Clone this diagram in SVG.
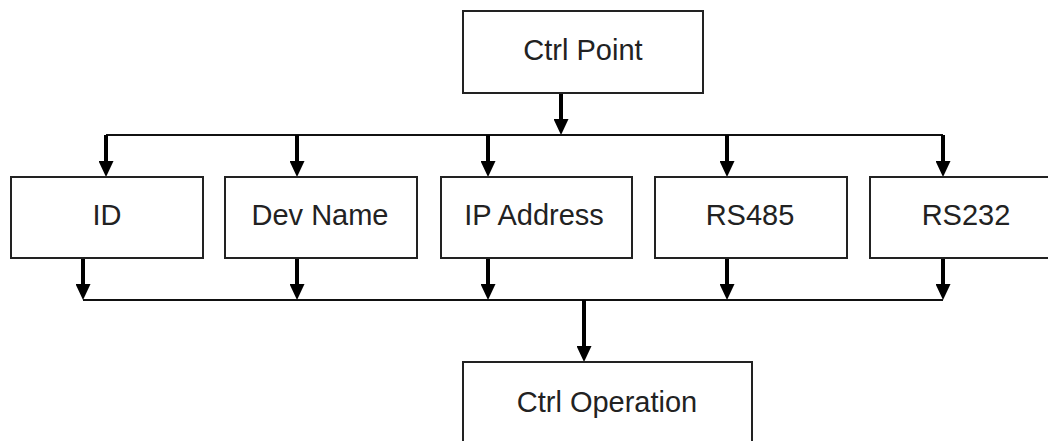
<svg xmlns="http://www.w3.org/2000/svg" width="1048" height="441" viewBox="0 0 1048 441">
  <style>
    .box { fill: #ffffff; stroke: #222222; stroke-width: 2; }
    .lbl { font-family: "Liberation Sans", Arial, sans-serif; font-size: 29px; fill: #222222; text-anchor: middle; }
    .bus { stroke: #111111; stroke-width: 2; fill: none; }
    .arr { stroke: #000000; stroke-width: 4; fill: none; marker-end: url(#head); }
  </style>
  <defs>
    <marker id="head" markerUnits="userSpaceOnUse" markerWidth="16" markerHeight="15" viewBox="0 0 16 15" refX="6" refY="7.5" orient="auto">
      <path d="M0,0 L16,7.5 L0,15 z" fill="#000000"/>
    </marker>
  </defs>
  <rect width="1048" height="441" fill="#ffffff"/>

  <g id="connectors">
    <line class="arr" x1="561" y1="93" x2="561" y2="125"/>
    <line class="bus" x1="106" y1="135" x2="943" y2="135"/>
    <line class="arr" x1="106" y1="135" x2="106" y2="167"/>
    <line class="arr" x1="297" y1="135" x2="297" y2="167"/>
    <line class="arr" x1="488" y1="135" x2="488" y2="167"/>
    <line class="arr" x1="727" y1="135" x2="727" y2="167"/>
    <line class="arr" x1="943" y1="135" x2="943" y2="167"/>
    <line class="arr" x1="83" y1="258" x2="83" y2="290"/>
    <line class="arr" x1="297" y1="258" x2="297" y2="290"/>
    <line class="arr" x1="488" y1="258" x2="488" y2="290"/>
    <line class="arr" x1="727" y1="258" x2="727" y2="290"/>
    <line class="arr" x1="943" y1="258" x2="943" y2="290"/>
    <line class="bus" x1="83" y1="300" x2="943" y2="300"/>
    <line class="arr" x1="584" y1="300" x2="584" y2="352"/>
  </g>

  <g id="ctrl-point">
    <rect class="box" x="463" y="11" width="240" height="82"/>
    <text class="lbl" x="583" y="60">Ctrl Point</text>
  </g>
  <g id="id">
    <rect class="box" x="11" y="177" width="192" height="81"/>
    <text class="lbl" x="107" y="225">ID</text>
  </g>
  <g id="dev-name">
    <rect class="box" x="225" y="177" width="192" height="81"/>
    <text class="lbl" x="320" y="225">Dev Name</text>
  </g>
  <g id="ip-address">
    <rect class="box" x="441" y="177" width="191" height="81"/>
    <text class="lbl" x="534" y="225">IP Address</text>
  </g>
  <g id="rs485">
    <rect class="box" x="655" y="177" width="192" height="81"/>
    <text class="lbl" x="750" y="225">RS485</text>
  </g>
  <g id="rs232">
    <rect class="box" x="870" y="177" width="192" height="81"/>
    <text class="lbl" x="966" y="225">RS232</text>
  </g>
  <g id="ctrl-operation">
    <rect class="box" x="463" y="362" width="289" height="100"/>
    <text class="lbl" x="607" y="412">Ctrl Operation</text>
  </g>
</svg>
